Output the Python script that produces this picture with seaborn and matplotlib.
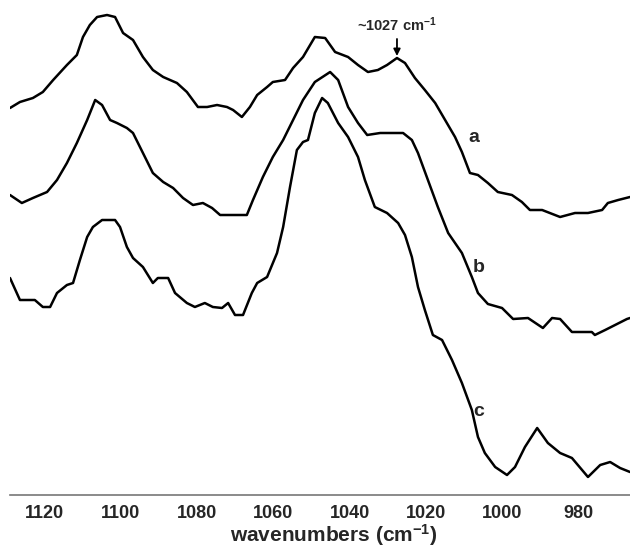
import matplotlib
matplotlib.use("Agg")
import matplotlib.pyplot as plt
from matplotlib.ticker import MultipleLocator
import seaborn as sns
import pandas as pd

# ---- data (wavenumber in cm-1, arbitrary absorbance units, offset spectra) ----
wn_a = [1128.9, 1126.3, 1122.9, 1120.3, 1117.6, 1114.0, 1111.4, 1109.8, 1108.0, 1106.1,
        1103.5, 1101.4, 1099.3, 1096.7, 1094.1, 1091.5, 1088.8, 1085.2, 1082.6, 1079.7,
        1077.3, 1074.7, 1072.1, 1070.5, 1068.2, 1066.1, 1064.2, 1061.6, 1060.1, 1056.9,
        1054.8, 1052.2, 1049.1, 1046.4, 1043.8, 1040.4, 1037.8, 1035.2, 1032.6, 1030.2,
        1027.6, 1025.5, 1022.9, 1020.3, 1017.6, 1015.0, 1012.4, 1010.6, 1008.5, 1006.4,
        1003.8, 1001.2, 997.5, 994.9, 992.8, 989.6, 984.9, 981.0, 977.6, 973.9,
        972.4, 969.7, 966.6]
abs_a = [3.92, 3.98, 4.02, 4.08, 4.20, 4.35, 4.45, 4.63, 4.75, 4.83,
         4.85, 4.83, 4.67, 4.60, 4.43, 4.30, 4.23, 4.17, 4.08, 3.93,
         3.93, 3.95, 3.93, 3.90, 3.83, 3.93, 4.05, 4.13, 4.18, 4.20,
         4.32, 4.43, 4.63, 4.62, 4.48, 4.43, 4.35, 4.28, 4.30, 4.35,
         4.42, 4.37, 4.22, 4.10, 3.97, 3.80, 3.63, 3.48, 3.27, 3.25,
         3.17, 3.08, 3.05, 2.98, 2.90, 2.90, 2.83, 2.87, 2.87, 2.90,
         2.97, 3.00, 3.03]

wn_b = [1128.9, 1125.8, 1122.9, 1119.2, 1116.6, 1114.0, 1111.4, 1108.7, 1106.6, 1104.8,
        1102.7, 1100.9, 1098.3, 1096.7, 1094.1, 1091.5, 1088.8, 1086.2, 1083.6, 1081.0,
        1078.4, 1076.0, 1073.9, 1066.9, 1065.3, 1062.7, 1060.1, 1057.4, 1054.8, 1052.2,
        1049.1, 1045.1, 1043.0, 1040.4, 1037.8, 1035.4, 1032.0, 1026.0, 1023.7, 1022.1,
        1019.5, 1016.9, 1014.2, 1010.6, 1008.0, 1006.4, 1003.8, 1000.1, 997.2, 993.3,
        989.4, 987.0, 984.9, 981.8, 976.6, 975.8, 973.1, 967.4, 966.6]
abs_b = [3.05, 2.97, 3.02, 3.08, 3.20, 3.37, 3.57, 3.80, 4.00, 3.95,
         3.80, 3.77, 3.72, 3.67, 3.47, 3.27, 3.18, 3.12, 3.02, 2.95,
         2.97, 2.92, 2.85, 2.85, 3.00, 3.23, 3.43, 3.60, 3.80, 4.00,
         4.18, 4.28, 4.20, 3.93, 3.77, 3.65, 3.67, 3.67, 3.60, 3.47,
         3.20, 2.93, 2.67, 2.47, 2.23, 2.07, 1.96, 1.92, 1.81, 1.82,
         1.72, 1.82, 1.81, 1.68, 1.68, 1.65, 1.70, 1.81, 1.82]

wn_c = [1128.9, 1126.3, 1122.4, 1120.3, 1118.4, 1116.6, 1114.0, 1112.4, 1110.6, 1108.7,
        1107.2, 1104.8, 1101.4, 1100.1, 1098.3, 1096.7, 1094.1, 1091.5, 1090.2, 1087.5,
        1085.7, 1082.6, 1080.5, 1077.9, 1075.8, 1073.4, 1071.8, 1070.0, 1067.9, 1065.6,
        1064.2, 1061.6, 1059.0, 1057.4, 1055.6, 1053.8, 1052.2, 1050.9, 1049.1, 1047.2,
        1045.7, 1043.0, 1040.4, 1037.8, 1036.0, 1033.4, 1030.2, 1027.3, 1025.5, 1023.7,
        1022.1, 1020.3, 1018.2, 1015.8, 1013.2, 1010.6, 1008.0, 1006.4, 1004.6, 1001.9,
        998.8, 996.7, 994.1, 990.9, 988.1, 984.9, 981.8, 977.6, 974.4, 971.8,
        969.2, 966.6]
abs_c = [2.22, 2.00, 2.00, 1.93, 1.93, 2.07, 2.15, 2.17, 2.40, 2.63,
         2.73, 2.80, 2.80, 2.73, 2.53, 2.42, 2.33, 2.17, 2.22, 2.22,
         2.07, 1.97, 1.93, 1.97, 1.93, 1.92, 1.97, 1.85, 1.85, 2.07,
         2.17, 2.23, 2.47, 2.73, 3.13, 3.50, 3.58, 3.60, 3.87, 4.02,
         3.97, 3.77, 3.63, 3.43, 3.20, 2.93, 2.87, 2.77, 2.65, 2.43,
         2.13, 1.90, 1.65, 1.60, 1.40, 1.17, 0.90, 0.63, 0.47, 0.33,
         0.25, 0.33, 0.53, 0.72, 0.57, 0.47, 0.42, 0.23, 0.35, 0.38,
         0.32, 0.28]

series_names = ["a", "b", "c"]
label_pos = [(1007.5, 3.63), (1006.2, 2.33), (1006.2, 0.88)]
peak_wn = 1027.6
peak_text = "~1027 cm$^{-1}$"
xticks = [1120, 1100, 1080, 1060, 1040, 1020, 1000, 980]

df = pd.concat([
    pd.DataFrame({"wavenumber": wn_a, "absorbance": abs_a, "spectrum": "a"}),
    pd.DataFrame({"wavenumber": wn_b, "absorbance": abs_b, "spectrum": "b"}),
    pd.DataFrame({"wavenumber": wn_c, "absorbance": abs_c, "spectrum": "c"}),
], ignore_index=True)

sns.set_style("white")
plt.rcParams["font.family"] = ["Liberation Sans", "DejaVu Sans"]
plt.rcParams["font.weight"] = "bold"
plt.rcParams["mathtext.fontset"] = "custom"
plt.rcParams["mathtext.rm"] = "Liberation Sans:bold"
plt.rcParams["mathtext.it"] = "Liberation Sans:bold"
plt.rcParams["mathtext.bf"] = "Liberation Sans:bold"

fig = plt.figure(figsize=(6.30, 5.49), dpi=100)
ax = fig.add_axes([10 / 630, 54 / 549, 620 / 630, 495 / 549])

sns.lineplot(data=df, x="wavenumber", y="absorbance", units="spectrum",
             estimator=None, sort=False, color="black", linewidth=1.8, ax=ax)

ax.set_xlim(1128.9, 966.6)
ax.set_ylim(0.05, 5.0)

for name, (lx, ly) in zip(series_names, label_pos):
    ax.text(lx, ly, name, fontsize=14, fontweight="bold", ha="center", va="center")

ax.annotate(peak_text, xy=(peak_wn, 4.44), xytext=(peak_wn, 4.75),
            ha="center", va="center", fontsize=10.5, fontweight="bold",
            arrowprops=dict(arrowstyle="-|>", color="black", lw=1.3,
                            mutation_scale=10, shrinkA=1, shrinkB=0))

for s in ["top", "left", "right"]:
    ax.spines[s].set_visible(False)
ax.spines["bottom"].set_color("#777777")
ax.spines["bottom"].set_linewidth(1.2)
ax.set_yticks([])
ax.set_ylabel("")
ax.set_xticks(xticks)
ax.xaxis.set_minor_locator(MultipleLocator(5))
ax.tick_params(axis="x", which="both", direction="in", length=3, width=1,
               color="#777777", labelsize=13, pad=7)
for lab in ax.get_xticklabels():
    lab.set_fontweight("bold")
ax.set_xlabel("wavenumbers (cm$^{-1}$)", fontsize=15, fontweight="bold")
ax.xaxis.label.set_va("center")
ax.xaxis.set_label_coords(0.5226, -0.080)

fig.savefig("out.png", dpi=100, facecolor="white")
